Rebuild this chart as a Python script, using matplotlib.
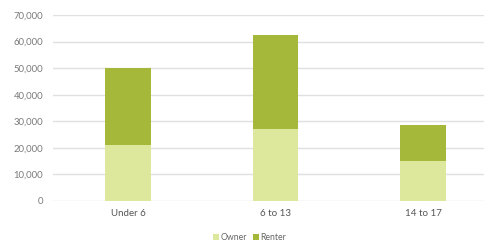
import matplotlib
matplotlib.use("Agg")
import matplotlib.pyplot as plt
import numpy as np

categories = ["Under 6", "6 to 13", "14 to 17"]
owner = [21000, 27000, 15000]
renter = [29000, 35400, 13500]
yticks = [0, 10000, 20000, 30000, 40000, 50000, 60000, 70000]

plt.rcParams['font.family'] = ['Lato', 'DejaVu Sans']

fig = plt.figure(figsize=(4.85, 2.44), dpi=100)
ax = fig.add_axes([53/485, 43/244, 1 - 53/485, 186/244])

x = np.arange(len(categories))
w = 0.31
c_owner = "#dde89c"
c_renter = "#a6b83a"
ax.bar(x, owner, w, color=c_owner, label="Owner", zorder=3)
ax.bar(x, renter, w, bottom=owner, color=c_renter, label="Renter", zorder=3)

ax.set_xlim(-0.51, 2.42)
ax.set_ylim(0, 70000)
ax.set_yticks(yticks)
ax.set_yticklabels([f"{v:,}" for v in yticks], fontsize=6.8, color="#7a7a7a")
ax.set_xticks(x)
ax.set_xticklabels(categories, fontsize=7, color="#555555")
ax.tick_params(axis='both', length=0)
ax.tick_params(axis='y', pad=7)
ax.tick_params(axis='x', pad=6)
ax.grid(axis='y', color="#e0e0e0", linewidth=1, zorder=0)
for s in ax.spines.values():
    s.set_visible(False)

fig.legend(loc="lower center", bbox_to_anchor=(0.515, -0.025), ncol=2, frameon=False,
           fontsize=6.3, handlelength=0.7, handleheight=0.7, handletextpad=0.2,
           columnspacing=0.6, labelcolor="#666666")

fig.savefig("out.png", dpi=100)
